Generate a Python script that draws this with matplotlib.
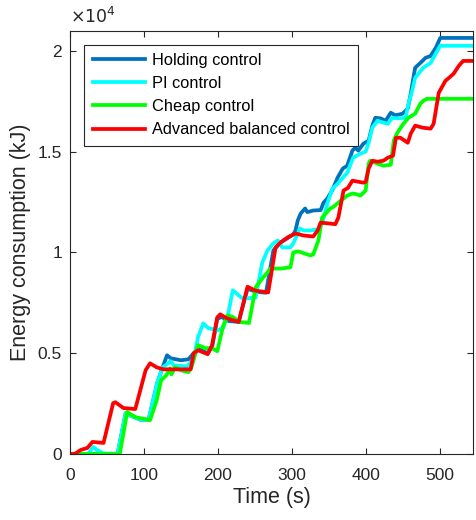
import matplotlib
matplotlib.use("Agg")
import matplotlib.pyplot as plt
from matplotlib.ticker import FuncFormatter

# ---- data (time in s, energy in kJ) ----
hold_t = [0, 64, 75, 82, 95, 106, 118, 124, 131, 136, 150, 160, 167, 175, 186, 192, 199, 205,
          214, 228, 240, 251, 265, 275, 285, 294, 302, 305, 308, 312, 318, 321, 329, 339, 343,
          348, 355, 362, 369, 375, 382, 386, 390, 397, 404, 409, 413, 420, 427, 434, 440, 450,
          457, 461, 467, 474, 481, 488, 495, 501, 550]
hold_e = [0, 0, 2030, 1900, 1700, 1700, 3560, 4200, 4900, 4750, 4650, 4700, 5000, 5200, 5000,
          5300, 6700, 6800, 6600, 6550, 8200, 8050, 8000, 10100, 10500, 10700, 10900, 11090,
          11580, 11930, 12180, 12000, 12080, 12100, 12470, 12670, 13100, 13710, 14160, 14300,
          15050, 15200, 15050, 15400, 15540, 16290, 16680, 16650, 16530, 16930, 16800, 16880,
          17130, 17870, 19160, 19400, 19650, 19750, 20150, 20640, 20640]

pi_t = [0, 24, 31, 36, 45, 64, 75, 82, 95, 106, 118, 125, 131, 136, 140, 158, 167, 173, 180,
        187, 199, 207, 214, 220, 224, 233, 251, 260, 267, 275, 281, 287, 298, 302, 311, 316,
        325, 335, 341, 348, 355, 362, 368, 375, 383, 393, 400, 404, 409, 416, 423, 430, 436,
        443, 454, 458, 463, 467, 478, 488, 497, 501, 550]
pi_e = [0, 0, 350, 200, 30, 0, 2030, 1900, 1700, 1700, 3560, 4300, 4450, 4600, 4400, 4350,
        4700, 5800, 6480, 6240, 6140, 6250, 6980, 8120, 8000, 7720, 7750, 9500, 10100, 10450,
        10590, 10250, 10250, 10450, 11190, 11090, 11090, 11150, 11430, 12420, 13170, 13400,
        13660, 13950, 14700, 14900, 15000, 15440, 16190, 16530, 16450, 16380, 16680, 16650,
        16680, 17380, 18020, 18660, 19160, 19400, 20000, 20250, 20250]

cheap_t = [0, 67, 77, 88, 108, 117, 123, 130, 135, 137, 142, 150, 160, 164, 170, 173, 183,
           192, 199, 207, 213, 220, 230, 242, 251, 260, 267, 271, 285, 298, 302, 309, 325, 329,
           336, 341, 352, 356, 363, 370, 375, 382, 386, 393, 400, 404, 406, 413, 424, 434, 438,
           443, 451, 458, 467, 474, 478, 483, 550]
cheap_e = [0, 0, 2080, 1830, 1680, 2670, 3660, 3900, 4250, 3950, 4300, 4150, 4060, 4300,
           5050, 5400, 5250, 5250, 5100, 6350, 6880, 6800, 6550, 6500, 8270, 8710, 9010, 9200,
           9200, 9260, 10000, 10050, 9850, 9900, 10590, 11730, 12180, 12250, 12470, 12670,
           12820, 12920, 12900, 12820, 13070, 14400, 14550, 14450, 14300, 14350, 15540, 15940,
           16380, 16680, 16880, 17380, 17520, 17620, 17620]

adv_t = [0, 6, 14, 23, 30, 45, 58, 61, 72, 88, 102, 108, 117, 126, 163, 167, 173, 186, 192,
         199, 203, 212, 228, 240, 251, 268, 278, 285, 294, 305, 316, 329, 335, 339, 352, 359,
         363, 370, 376, 382, 397, 400, 404, 409, 416, 424, 430, 437, 441, 447, 457, 461, 467,
         477, 488, 492, 499, 508, 519, 526, 532, 550]
adv_e = [0, 0, 200, 300, 600, 550, 2520, 2570, 2280, 2230, 4160, 4500, 4300, 4200, 4200,
         5000, 5150, 4950, 5400, 6780, 6930, 6730, 6550, 8300, 8100, 8020, 10250, 10500,
         10740, 10940, 10840, 10790, 11090, 11480, 11430, 11400, 11730, 13070, 13200, 13560,
         13460, 13500, 14160, 14550, 14500, 14550, 14700, 14800, 15690, 15690, 15440, 15890,
         16290, 16190, 16140, 16380, 17920, 18510, 18860, 19250, 19500, 19500]

labels = ["Holding control", "PI control", "Cheap control", "Advanced balanced control"]
colors = ["#0072BD", "#00FFFF", "#00FF00", "#FF0000"]
x_ticks = [0, 100, 200, 300, 400, 500]
y_ticks = [0, 5000, 10000, 15000, 20000]

plt.rcParams['font.family'] = ['Liberation Sans', 'DejaVu Sans']
fig = plt.figure(figsize=(4.76, 5.20), dpi=100)
ax = fig.add_axes([0.1477, 0.1269, 0.8470, 0.8141])

series = [(hold_t, hold_e), (pi_t, pi_e), (cheap_t, cheap_e), (adv_t, adv_e)]
for (t, e), c, lab in zip(series, colors, labels):
    ax.plot(t, e, color=c, lw=2.7, label=lab, solid_joinstyle='round')

ax.set_xlim(0, 546)
ax.set_ylim(0, 21000)
ax.set_xticks(x_ticks)
ax.set_yticks(y_ticks)
ax.yaxis.set_major_formatter(FuncFormatter(lambda v, p: ('%g' % (v / 1e4))))
ax.tick_params(direction='in', top=True, right=True, length=4, width=0.8,
               labelsize=12.5, colors='#262626')
ax.tick_params(axis='x', pad=10)
ax.tick_params(axis='y', pad=6)
for s in ax.spines.values():
    s.set_color('#262626')
    s.set_linewidth(0.8)
ax.set_xlabel("Time (s)", fontsize=15.5, color='#262626', labelpad=3)
ax.set_ylabel("Energy consumption (kJ)", fontsize=15.5, color='#262626', labelpad=5)
ax.text(0.0, 1.012, r"$\times10^{4}$", transform=ax.transAxes, fontsize=12.5,
        color='#262626', ha='left', va='bottom')

leg = ax.legend(loc='upper left', bbox_to_anchor=(0.035, 0.967), borderaxespad=0,
                fontsize=11.8, frameon=True, fancybox=False, edgecolor='#262626',
                framealpha=1, borderpad=0.5, labelspacing=0.5, handlelength=3.2,
                handletextpad=0.45)
leg.get_frame().set_linewidth(0.8)

fig.savefig("out.png", dpi=100)
